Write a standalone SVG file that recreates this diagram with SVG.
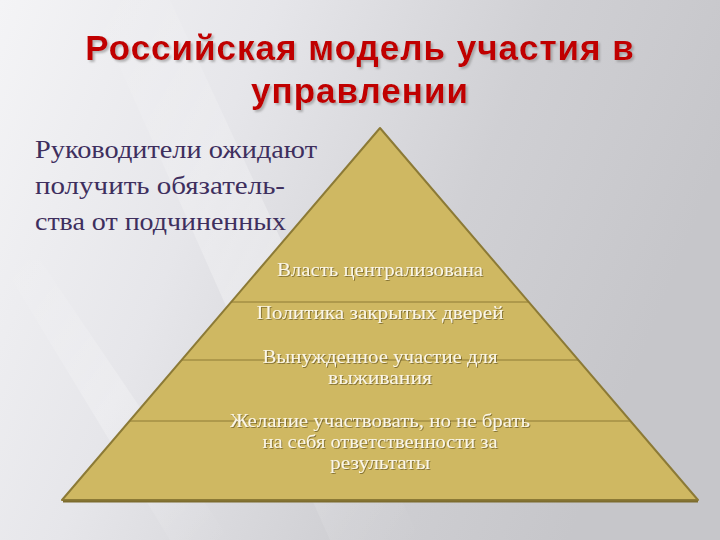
<svg xmlns="http://www.w3.org/2000/svg" width="720" height="540" viewBox="0 0 720 540">
<defs>
<linearGradient id="bg" x1="0" y1="0" x2="1" y2="0.3">
<stop offset="0" stop-color="#f4f4f6"/>
<stop offset="0.35" stop-color="#e6e6ea"/>
<stop offset="0.7" stop-color="#d0d0d4"/>
<stop offset="1" stop-color="#c6c6ca"/>
</linearGradient>
<linearGradient id="streak" x1="0" y1="0" x2="1" y2="1">
<stop offset="0" stop-color="#ffffff" stop-opacity="0"/>
<stop offset="0.5" stop-color="#ffffff" stop-opacity="0.6"/>
<stop offset="1" stop-color="#ffffff" stop-opacity="0"/>
</linearGradient>
<filter id="sh" x="-5%" y="-20%" width="110%" height="140%">
<feDropShadow dx="2" dy="2" stdDeviation="1" flood-color="#888" flood-opacity="0.6"/>
</filter>
<filter id="tsh" x="-5%" y="-20%" width="110%" height="140%">
<feDropShadow dx="1" dy="1" stdDeviation="0.5" flood-color="#6b5a20" flood-opacity="0.7"/>
</filter>
</defs>
<style>
.title{font-family:"Liberation Sans",Arial,sans-serif;font-weight:bold;font-size:35px;fill:#c00000;text-anchor:middle;letter-spacing:1px}
.left{font-family:"Liberation Serif","Times New Roman",serif;font-size:26px;fill:#3e2f5e}
.lvl{font-family:"Liberation Serif","Times New Roman",serif;font-size:18px;fill:#fbf6e6;text-anchor:middle}
.div{stroke:#8e7a34;stroke-width:1}
</style>
<rect width="720" height="540" fill="url(#bg)"/>
<polygon points="90,0 170,0 420,540 330,540" fill="url(#streak)" opacity="0.5"/>
<polygon points="0,260 40,260 230,540 170,540" fill="url(#streak)" opacity="0.4"/>

<g id="title" filter="url(#sh)">
<text class="title" x="360" y="60">Российская модель участия в</text>
<text class="title" x="360" y="103">управлении</text>
</g>

<g id="pyramid">
<polygon points="380,128 62,500 698,500" fill="#cfb862" stroke="#8c7a36" stroke-width="2" stroke-linejoin="round"/>
<line x1="63" y1="501.5" x2="698" y2="501.5" stroke="#7d6c2e" stroke-width="2"/>
</g>

<g id="connectors">
<line class="div" x1="231" y1="302" x2="529" y2="302"/>
<line class="div" x1="182" y1="360" x2="578" y2="360"/>
<line class="div" x1="130" y1="421" x2="630" y2="421"/>
</g>

<g id="left-text">
<text class="left" x="35" y="158" textLength="282" lengthAdjust="spacingAndGlyphs">Руководители ожидают</text>
<text class="left" x="35" y="194" textLength="250" lengthAdjust="spacingAndGlyphs">получить обязатель-</text>
<text class="left" x="35" y="230" textLength="251" lengthAdjust="spacingAndGlyphs">ства от подчиненных</text>
</g>

<g id="level1" filter="url(#tsh)">
<text class="lvl" x="380" y="276" textLength="206" lengthAdjust="spacingAndGlyphs">Власть централизована</text>
</g>
<g id="level2" filter="url(#tsh)">
<text class="lvl" x="380" y="319" textLength="247" lengthAdjust="spacingAndGlyphs">Политика закрытых дверей</text>
</g>
<g id="level3" filter="url(#tsh)">
<text class="lvl" x="380" y="363" textLength="235" lengthAdjust="spacingAndGlyphs">Вынужденное участие для</text>
<text class="lvl" x="380" y="384" textLength="104" lengthAdjust="spacingAndGlyphs">выживания</text>
</g>
<g id="level4" filter="url(#tsh)">
<text class="lvl" x="380" y="427" textLength="300" lengthAdjust="spacingAndGlyphs">Желание участвовать, но не брать</text>
<text class="lvl" x="380" y="448" textLength="235" lengthAdjust="spacingAndGlyphs">на себя ответственности за</text>
<text class="lvl" x="380" y="469" textLength="100" lengthAdjust="spacingAndGlyphs">результаты</text>
</g>
</svg>
